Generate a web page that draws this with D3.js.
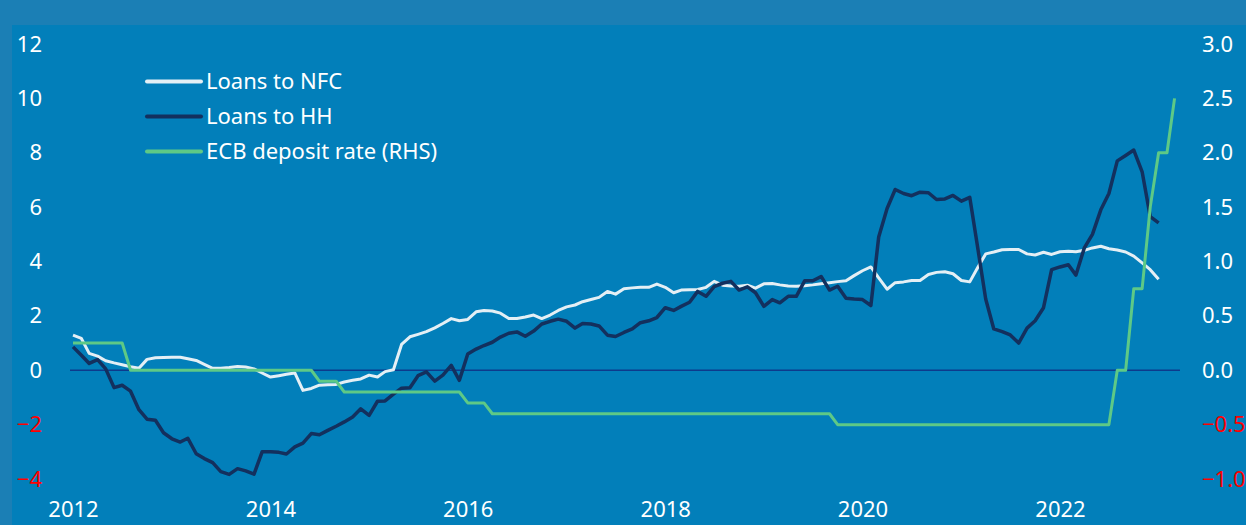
<!DOCTYPE html>
<html>
<head>
<meta charset="utf-8">
<script src="https://cdn.jsdelivr.net/npm/d3@7"></script>
<style>
    body { margin: 0; background: #1b7fb5; }
    svg { display: block; }
    .tick-label { font-family: "Noto Sans", sans-serif; font-size: 22px; fill: #ffffff; }
    .tick-label.negative { fill: #ff0000; }
    .legend-label { font-family: "Noto Sans", sans-serif; font-size: 22px; fill: #ffffff; }
</style>
</head>
<body>
<svg id="loans-chart" width="1246" height="525"></svg>
<script>

// Monthly observations, first month of each series
let firstMonth = new Date(Date.UTC(2012, 0, 1));

let yearTicks = [2012, 2014, 2016, 2018, 2020, 2022];
let leftTicks = [-4, -2, 0, 2, 4, 6, 8, 10, 12];
let rightTicks = [-1.0, -0.5, 0.0, 0.5, 1.0, 1.5, 2.0, 2.5, 3.0];

let seriesNames = ["Loans to NFC", "Loans to HH", "ECB deposit rate (RHS)"];

// Loans to non-financial corporations, % y/y, Jan 2012 - Jan 2023
let loansNFC = [
    1.29, 1.17, 0.62, 0.52, 0.35, 0.27, 0.20, 0.13, 0.07, 0.40,
    0.46, 0.47, 0.48, 0.48, 0.42, 0.36, 0.22, 0.07, 0.07, 0.10,
    0.14, 0.12, 0.05, -0.10, -0.25, -0.20, -0.15, -0.10, -0.74, -0.67,
    -0.55, -0.53, -0.52, -0.43, -0.37, -0.32, -0.18, -0.25, -0.05, 0.02,
    0.95, 1.23, 1.32, 1.42, 1.56, 1.72, 1.90, 1.82, 1.87, 2.15,
    2.20, 2.18, 2.10, 1.90, 1.90, 1.96, 2.03, 1.90, 2.03, 2.20,
    2.33, 2.40, 2.52, 2.60, 2.68, 2.90, 2.80, 3.00, 3.03, 3.05,
    3.05, 3.17, 3.05, 2.85, 2.95, 2.96, 2.97, 3.05, 3.27, 3.13,
    3.10, 3.09, 3.13, 3.02, 3.18, 3.19, 3.14, 3.10, 3.09, 3.11,
    3.14, 3.18, 3.22, 3.26, 3.29, 3.48, 3.66, 3.80, 3.40, 2.98,
    3.22, 3.25, 3.30, 3.30, 3.52, 3.60, 3.62, 3.55, 3.30, 3.25,
    3.75, 4.28, 4.35, 4.43, 4.44, 4.44, 4.28, 4.24, 4.34, 4.26,
    4.36, 4.38, 4.36, 4.41, 4.50, 4.56, 4.47, 4.42, 4.35, 4.20,
    3.95, 3.70, 3.35
];

// Loans to households, % y/y, Jan 2012 - Jan 2023
let loansHH = [
    0.86, 0.55, 0.25, 0.39, 0.05, -0.64, -0.55, -0.77, -1.45, -1.80,
    -1.84, -2.30, -2.52, -2.64, -2.50, -3.07, -3.25, -3.40, -3.73, -3.83,
    -3.62, -3.70, -3.82, -3.00, -3.00, -3.02, -3.08, -2.82, -2.68, -2.33,
    -2.37, -2.21, -2.06, -1.90, -1.72, -1.42, -1.66, -1.14, -1.13, -0.88,
    -0.66, -0.64, -0.20, -0.06, -0.40, -0.18, 0.18, -0.37, 0.60, 0.78,
    0.91, 1.03, 1.22, 1.36, 1.41, 1.25, 1.44, 1.70, 1.80, 1.88,
    1.80, 1.55, 1.72, 1.70, 1.63, 1.29, 1.24, 1.39, 1.52, 1.75,
    1.82, 1.94, 2.30, 2.20, 2.35, 2.50, 2.90, 2.72, 3.08, 3.20,
    3.27, 2.95, 3.07, 2.85, 2.35, 2.60, 2.48, 2.72, 2.72, 3.29,
    3.29, 3.45, 2.95, 3.09, 2.65, 2.62, 2.60, 2.38, 4.90, 5.95,
    6.65, 6.50, 6.42, 6.55, 6.53, 6.28, 6.30, 6.43, 6.22, 6.36,
    4.60, 2.62, 1.52, 1.42, 1.30, 1.00, 1.55, 1.82, 2.30, 3.70,
    3.80, 3.88, 3.50, 4.50, 5.00, 5.90, 6.50, 7.70, 7.90, 8.10,
    7.30, 5.65, 5.42
];

// ECB deposit facility rate, %, Jan 2012 - Mar 2023
let ecbRate = [
    0.25, 0.25, 0.25, 0.25, 0.25, 0.25, 0.25, 0.00, 0.00, 0.00,
    0.00, 0.00, 0.00, 0.00, 0.00, 0.00, 0.00, 0.00, 0.00, 0.00,
    0.00, 0.00, 0.00, 0.00, 0.00, 0.00, 0.00, 0.00, 0.00, 0.00,
    -0.10, -0.10, -0.10, -0.20, -0.20, -0.20, -0.20, -0.20, -0.20, -0.20,
    -0.20, -0.20, -0.20, -0.20, -0.20, -0.20, -0.20, -0.20, -0.30, -0.30,
    -0.30, -0.40, -0.40, -0.40, -0.40, -0.40, -0.40, -0.40, -0.40, -0.40,
    -0.40, -0.40, -0.40, -0.40, -0.40, -0.40, -0.40, -0.40, -0.40, -0.40,
    -0.40, -0.40, -0.40, -0.40, -0.40, -0.40, -0.40, -0.40, -0.40, -0.40,
    -0.40, -0.40, -0.40, -0.40, -0.40, -0.40, -0.40, -0.40, -0.40, -0.40,
    -0.40, -0.40, -0.40, -0.50, -0.50, -0.50, -0.50, -0.50, -0.50, -0.50,
    -0.50, -0.50, -0.50, -0.50, -0.50, -0.50, -0.50, -0.50, -0.50, -0.50,
    -0.50, -0.50, -0.50, -0.50, -0.50, -0.50, -0.50, -0.50, -0.50, -0.50,
    -0.50, -0.50, -0.50, -0.50, -0.50, -0.50, -0.50, 0.00, 0.00, 0.75,
    0.75, 1.50, 2.00, 2.00, 2.50
];


let chart = {
    width: 1246,
    height: 525,
    panel: { left: 12, top: 25 },
    plot: { left: 73, right: 1060, top: 44, bottom: 479 },
    colours: {
        nfc: "#e4eff5",
        hh: "#13305e",
        ecb: "#5ec986",
        zero: "#0d3a8c",
        panel: "#027fba"
    }
};

let svg = d3.select("#loans-chart");

// Inner panel on top of the lighter frame
svg.append("rect")
    .attr("x", chart.panel.left)
    .attr("y", chart.panel.top)
    .attr("width", chart.width - chart.panel.left)
    .attr("height", chart.height - chart.panel.top)
    .attr("fill", chart.colours.panel);

// Scales
let x = d3.scaleUtc()
    .domain([new Date(Date.UTC(2012, 0, 1)), new Date(Date.UTC(2022, 0, 1))])
    .range([chart.plot.left, chart.plot.right]);

let yLeft = d3.scaleLinear()
    .domain([-4, 12])
    .range([chart.plot.bottom, chart.plot.top]);

let yRight = d3.scaleLinear()
    .domain([-1, 3])
    .range([chart.plot.bottom, chart.plot.top]);

function monthDate(i) {
    return d3.utcMonth.offset(firstMonth, i);
}

// Left axis labels
let leftAxis = svg.append("g")
    .attr("transform", "translate(42,0)")
    .call(d3.axisLeft(yLeft).tickValues(leftTicks).tickSize(0).tickPadding(0));
leftAxis.select(".domain").remove();
leftAxis.selectAll("text")
    .attr("class", d => d < 0 ? "tick-label negative" : "tick-label")
    .attr("font-size", null)
    .attr("font-family", null);

// Right axis labels
let rightAxis = svg.append("g")
    .attr("transform", "translate(1202,0)")
    .call(d3.axisRight(yRight).tickValues(rightTicks).tickSize(0).tickPadding(0)
        .tickFormat(d3.format(".1f")));
rightAxis.select(".domain").remove();
rightAxis.selectAll("text")
    .attr("class", d => d < 0 ? "tick-label negative" : "tick-label")
    .attr("font-size", null)
    .attr("font-family", null);

// Bottom axis labels
let bottomAxis = svg.append("g")
    .attr("transform", "translate(0,501.5)")
    .call(d3.axisBottom(x)
        .tickValues(yearTicks.map(y => new Date(Date.UTC(y, 0, 1))))
        .tickSize(0).tickPadding(0)
        .tickFormat(d3.utcFormat("%Y")));
bottomAxis.select(".domain").remove();
bottomAxis.selectAll("text")
    .attr("class", "tick-label")
    .attr("font-size", null)
    .attr("font-family", null);

// Zero line
svg.append("line")
    .attr("x1", 70)
    .attr("x2", 1180)
    .attr("y1", yLeft(0))
    .attr("y2", yLeft(0))
    .attr("stroke", chart.colours.zero)
    .attr("stroke-width", 1.5);

// Lines
let leftLine = d3.line()
    .x((d, i) => x(monthDate(i)))
    .y(d => yLeft(d));

let rightLine = d3.line()
    .x((d, i) => x(monthDate(i)))
    .y(d => yRight(d));

svg.append("path")
    .datum(loansNFC)
    .attr("d", leftLine)
    .attr("fill", "none")
    .attr("stroke", chart.colours.nfc)
    .attr("stroke-width", 3)
    .attr("stroke-linejoin", "round");

svg.append("path")
    .datum(loansHH)
    .attr("d", leftLine)
    .attr("fill", "none")
    .attr("stroke", chart.colours.hh)
    .attr("stroke-width", 3.5)
    .attr("stroke-linejoin", "round");

svg.append("path")
    .datum(ecbRate)
    .attr("d", rightLine)
    .attr("fill", "none")
    .attr("stroke", chart.colours.ecb)
    .attr("stroke-width", 3)
    .attr("stroke-linejoin", "round");

// Legend
let legendColours = [chart.colours.nfc, chart.colours.hh, chart.colours.ecb];
let legend = svg.append("g")
    .selectAll("g")
    .data(seriesNames)
    .enter()
    .append("g")
    .attr("transform", (d, i) => "translate(147," + (81.5 + i * 35) + ")");

legend.append("line")
    .attr("x1", 0)
    .attr("x2", 54)
    .attr("stroke", (d, i) => legendColours[i])
    .attr("stroke-width", 4)
    .attr("stroke-linecap", "round");

legend.append("text")
    .attr("class", "legend-label")
    .attr("x", 59)
    .attr("dy", "0.35em")
    .text(d => d);

</script>
</body>
</html>
